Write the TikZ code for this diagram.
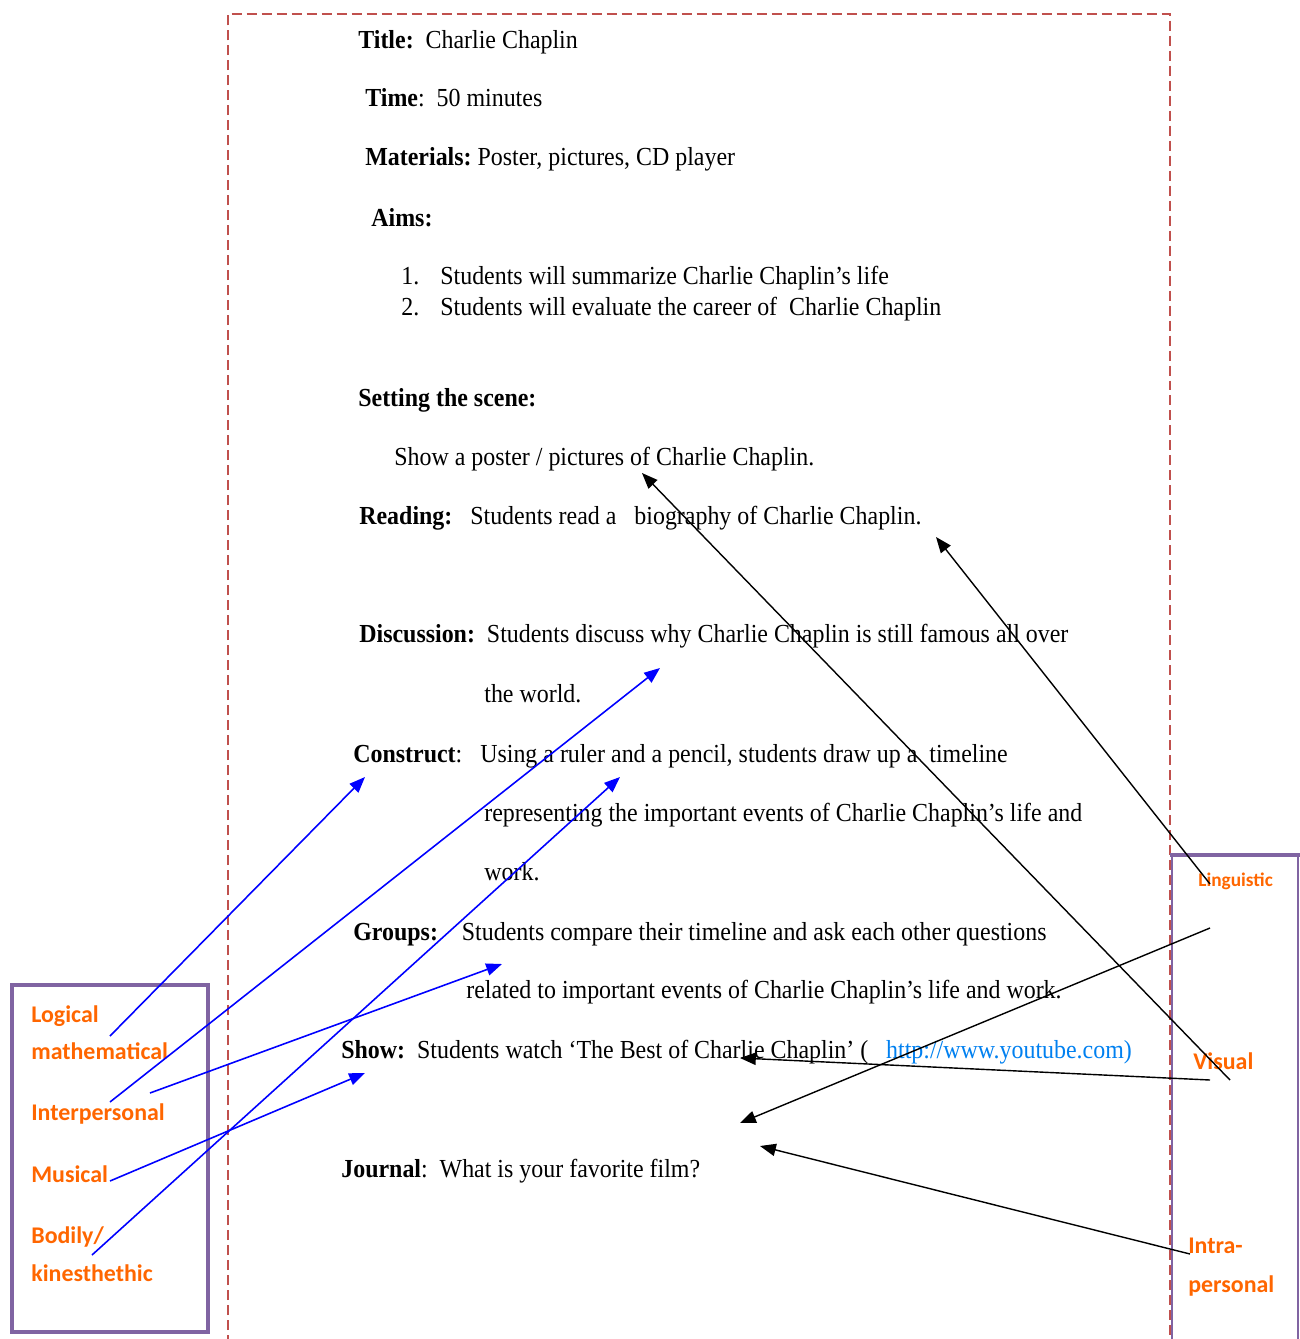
\documentclass[tikz,border=0pt]{standalone}
\usepackage{fontspec}
\setmainfont{Liberation Serif}[FakeStretch=0.92]
\newfontfamily\labelfont{Carlito}
\usetikzlibrary{arrows.meta}
\tikzset{>={Triangle[length=9pt,width=7pt]}}
\definecolor{frame}{RGB}{192,80,77}
\definecolor{boxpurple}{RGB}{128,100,162}
\definecolor{intel}{RGB}{255,102,0}
\definecolor{urlblue}{RGB}{0,128,240}

\begin{document}
\begin{tikzpicture}[x=0.02cm,y=-0.02cm,
  txt/.style={anchor=base west,inner sep=0pt,font=\fontsize{14.8}{17}\selectfont},
  lbl/.style={anchor=base west,inner sep=0pt,text=intel,font=\labelfont\bfseries\fontsize{13.6}{16}\selectfont},
  bluearrow/.style={->,blue,line width=0.9pt},
  blackarrow/.style={->,black,line width=0.8pt}]
\useasboundingbox (0,0) rectangle (1300,1339);
% lesson plan frame
\begin{scope}
\clip (0,0) rectangle (1300,1339);
\draw[frame,line width=1.2pt,dash pattern=on 0.2cm off 0.1cm] (228,1345) -- (228,14) -- (1170,14) -- (1170,1345);
\end{scope}
% lesson plan text
\node[txt] (title) at (358,48) {\textbf{Title:}\ \ Charlie Chaplin};
\node[txt] (time) at (365,106) {\textbf{Time}:\ \ 50 minutes};
\node[txt] (mat) at (365,165) {\textbf{Materials:}\hspace{0.12cm}Poster, pictures, CD player};
\node[txt] (aims) at (371,226) {\textbf{Aims:}};
\node[txt] (n1) at (401,284) {1.};
\node[txt] (aim1) at (440,284) {Students will summarize Charlie Chaplin’s life};
\node[txt] (n2) at (401,315) {2.};
\node[txt] (aim2) at (440,315) {Students will evaluate the career of\ \ Charlie Chaplin};
\node[txt] (scene) at (358,406) {\textbf{Setting the scene:}};
\node[txt] (poster) at (394,465) {Show a poster / pictures of Charlie Chaplin.};
\node[txt] (read) at (359,524) {\textbf{Reading:}\ \ \ Students read a\ \ \ biography of Charlie Chaplin.};
\node[txt] (disc) at (359,642) {\textbf{Discussion:}\ \ Students discuss why Charlie Chaplin is still famous all over};
\node[txt] (disc2) at (484,702) {the world.};
\node[txt] (cons) at (353,762) {\textbf{Construct}:\ \ \ Using a ruler and a pencil, students draw up a\ \ timeline};
\node[txt] (cons2) at (484,821) {representing the important events of Charlie Chaplin’s life and};
\node[txt] (cons3) at (484,880) {work.};
\node[txt] (grp) at (353,940) {\textbf{Groups:}\ \ \ \ Students compare their timeline and ask each other questions};
\node[txt] (grp2) at (466,998) {related to important events of Charlie Chaplin’s life and work.};
\node[txt] (show) at (341,1058) {\textbf{Show:}\ \ Students watch ‘The Best of Charlie Chaplin’ (\ \ \ \textcolor{urlblue}{http://www.youtube.com)}};
\node[txt] (jour) at (341,1177) {\textbf{Journal}:\ \ What is your favorite film?};
% intelligence boxes
\draw[boxpurple,line width=2.6pt] (12,985) rectangle (208,1332);
\draw[boxpurple,line width=0.6pt] (1172,855) -- (1172,1345);
\draw[boxpurple,line width=0.6pt] (1298,855) -- (1298,1345);
\draw[boxpurple,line width=2.6pt] (1170,855) -- (1300,855);
\node[lbl] (logic) at (31,1022) {Logical};
\node[lbl] (math) at (31,1059) {mathematical};
\node[lbl] (inter) at (31,1120) {Interpersonal};
\node[lbl] (music) at (31,1182) {Musical};
\node[lbl] (body) at (31,1243) {Bodily/};
\node[lbl] (kin) at (31,1281) {kinesthethic};
\node[lbl,font=\labelfont\bfseries\fontsize{11}{13}\selectfont] (ling) at (1198,886) {Linguistic};
\node[lbl] (vis) at (1193,1069) {Visual};
\node[lbl] (intra) at (1188,1253) {Intra-};
\node[lbl] (pers) at (1188,1292) {personal};
% arrow ends
\coordinate (logtail) at (110,1036);
\coordinate (loghead) at (365,777);
\coordinate (intertail) at (110,1102);
\coordinate (interhead) at (660,668);
\coordinate (mathtail) at (150,1093);
\coordinate (mathhead) at (502,964);
\coordinate (musictail) at (110,1181);
\coordinate (musichead) at (365,1073);
\coordinate (bodytail) at (92,1255);
\coordinate (bodyhead) at (620,777);
\coordinate (vistail) at (1230,1080);
\coordinate (vishead) at (642,473);
\coordinate (lingtail) at (1210,884);
\coordinate (linghead) at (936,537);
\coordinate (midtail) at (1210,928);
\coordinate (midhead) at (740,1123);
\coordinate (showtail) at (1210,1080);
\coordinate (showhead) at (740,1058);
\coordinate (intratail) at (1190,1254);
\coordinate (intrahead) at (760,1146);
% multiple intelligence arrows
\draw[bluearrow] (logtail) -- (loghead);
\draw[bluearrow] (intertail) -- (interhead);
\draw[bluearrow] (mathtail) -- (mathhead);
\draw[bluearrow] (musictail) -- (musichead);
\draw[bluearrow] (bodytail) -- (bodyhead);
\draw[blackarrow] (vistail) -- (vishead);
\draw[blackarrow] (lingtail) -- (linghead);
\draw[blackarrow] (midtail) -- (midhead);
\draw[blackarrow] (showtail) -- (showhead);
\draw[blackarrow] (intratail) -- (intrahead);
\end{tikzpicture}
\end{document}
